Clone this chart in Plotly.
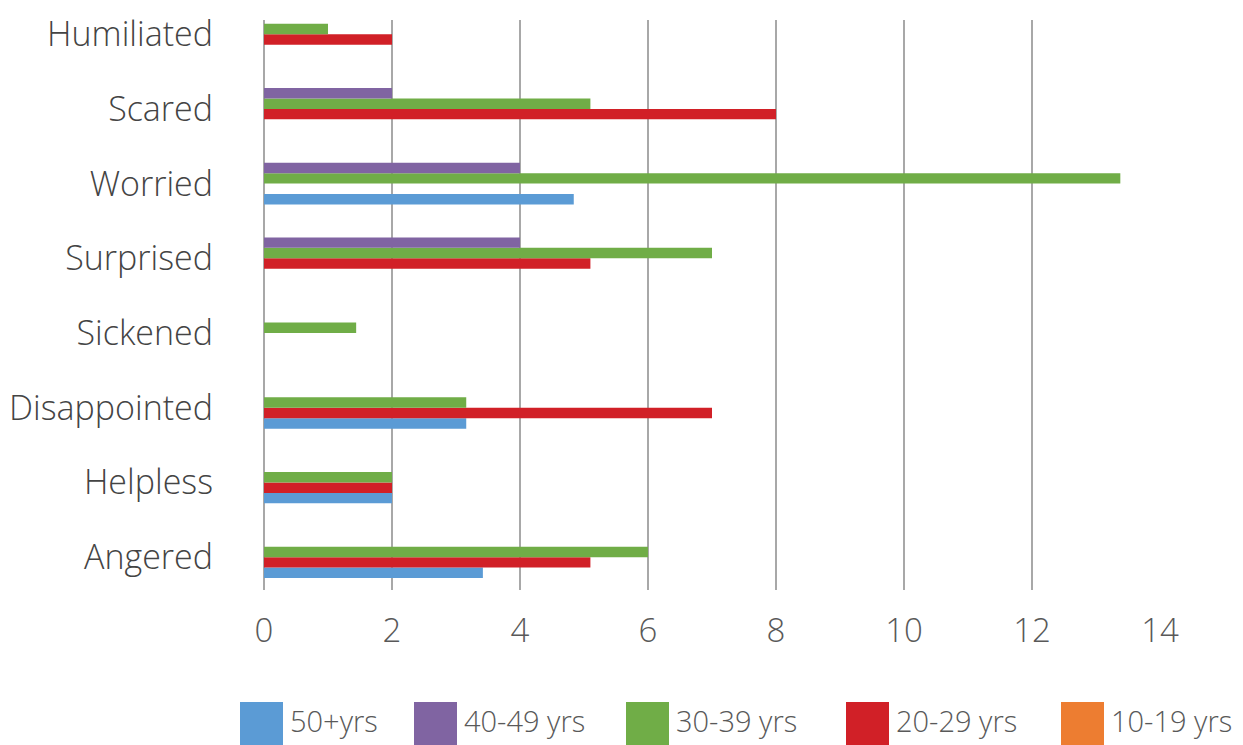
import plotly.graph_objects as go

categories = ["Angered", "Helpless", "Disappointed", "Sickened",
              "Surprised", "Worried", "Scared", "Humiliated"]

s50 = [3.42, 2.0, 3.16, 0, 0, 4.84, 0, 0]
s40 = [0, 0, 0, 0, 4.0, 4.0, 2.0, 0]
s30 = [6.0, 2.0, 3.16, 1.44, 7.0, 13.38, 5.1, 1.0]
s20 = [5.1, 2.0, 7.0, 0, 5.1, 0, 8.0, 2.0]
s10 = [0, 0, 0, 0, 0, 0, 0, 0]

legend_names = ["50+yrs", "40-49 yrs", "30-39 yrs", "20-29 yrs", "10-19 yrs"]
colors = {
    "50+yrs": "#5B9BD5",
    "40-49 yrs": "#8064A2",
    "30-39 yrs": "#70AD47",
    "20-29 yrs": "#D12027",
    "10-19 yrs": "#ED7D31",
}

# layout geometry (pixels, page coordinates; page body has an 8px margin)
OFF = 8
W, H = 1243 - OFF, 745 - OFF
L, R, T, B = 264 - OFF, 83, 20 - OFF, 155
PW, PH = W - L - R, H - T - B
legend_x_px = [240, 414, 626, 846, 1061]   # swatch left edges (page px)
swatch_px = 43
legend_swatch_top_px = 702
legend_text_y_px = 720

def px_x(px):
    return (px - OFF - L) / PW

def px_y(py):
    return (H - B - (py - OFF)) / PH

fig = go.Figure()

# Bars, bottom to top within each group
for name, vals in [("50+yrs", s50), ("20-29 yrs", s20), ("30-39 yrs", s30), ("40-49 yrs", s40)]:
    fig.add_trace(go.Bar(x=vals, y=categories, orientation="h", name=name,
                         marker=dict(color=colors[name], line=dict(width=0)),
                         showlegend=False))

font_family = "'Open Sans', Roboto, Arial, sans-serif"

# Custom legend with large swatches
shapes = []
annotations = []
for name, lx in zip(legend_names, legend_x_px):
    shapes.append(dict(type="rect", xref="paper", yref="paper",
                       x0=px_x(lx), x1=px_x(lx + swatch_px),
                       y0=px_y(legend_swatch_top_px + swatch_px), y1=px_y(legend_swatch_top_px),
                       fillcolor=colors[name], line=dict(width=0), layer="above"))
    annotations.append(dict(xref="paper", yref="paper", x=px_x(lx + swatch_px + 5),
                            y=px_y(legend_text_y_px), xanchor="left", yanchor="middle",
                            text=name, showarrow=False,
                            font=dict(size=29, color="#595959", family=font_family, weight=300)))

fig.update_layout(
    width=W, height=H,
    margin=dict(l=L, r=R, t=T, b=B),
    paper_bgcolor="white", plot_bgcolor="white",
    barmode="group", bargap=0.44, bargroupgap=0,
    showlegend=False,
    font=dict(family=font_family, color="#595959", weight=300),
    xaxis=dict(range=[0, 14], dtick=2, tick0=0, showgrid=True, automargin=False,
               gridcolor="#A8A8A8", gridwidth=1.5, zeroline=True,
               zerolinecolor="#A8A8A8", zerolinewidth=1.5, showline=False,
               ticks="", ticklabelstandoff=18,
               tickfont=dict(size=33, color="#595959", family=font_family, weight=300)),
    yaxis=dict(type="category", categoryorder="array", categoryarray=categories,
               range=[-0.44, 7.19], showgrid=False, zeroline=False, showline=False,
               automargin=False, ticks="", ticklabelstandoff=50,
               tickfont=dict(size=34, color="#444444", family=font_family, weight=300)),
    shapes=shapes,
    annotations=annotations,
)

fig.write_html("out.html")
